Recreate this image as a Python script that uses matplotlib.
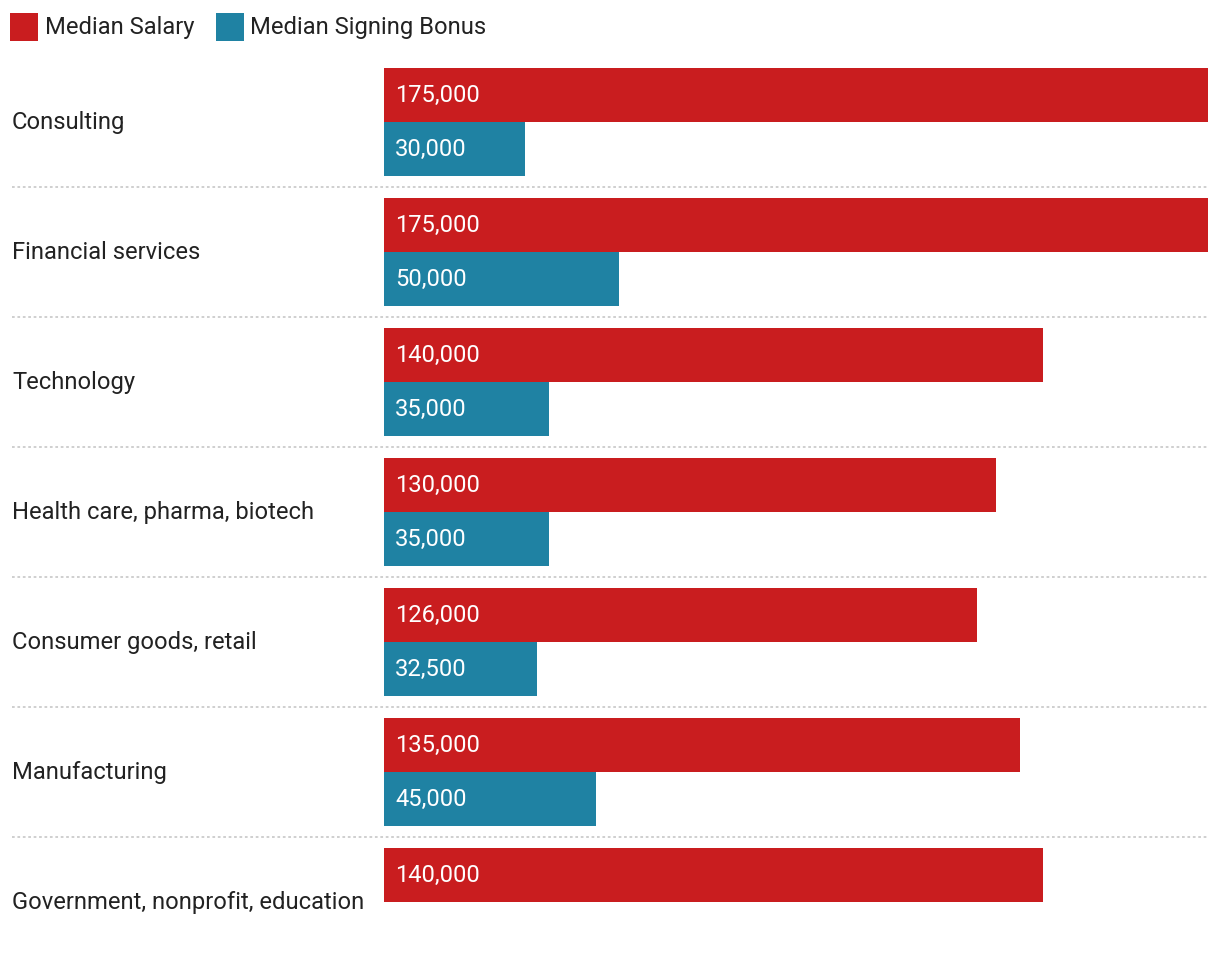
import numpy as np
import matplotlib.pyplot as plt
import matplotlib.patches as mpatches

plt.rcParams['font.family'] = ['Roboto', 'DejaVu Sans']

categories = ["Consulting", "Financial services", "Technology",
              "Health care, pharma, biotech", "Consumer goods, retail",
              "Manufacturing", "Government, nonprofit, education"]
salary = [175000, 175000, 140000, 130000, 126000, 135000, 140000]
bonus = [30000, 50000, 35000, 35000, 32500, 45000, np.nan]

RED = "#C91D1F"
BLUE = "#1F82A3"
TXT = "#222222"

W, H = 1220, 968
fig = plt.figure(figsize=(W / 100, H / 100), dpi=100)

# bar axes: x from 384px to 1208px, y in pixel units
x0, x1 = 384, 1208
ax = fig.add_axes([x0 / W, 0, (x1 - x0) / W, 1])
ax.set_xlim(0, max(salary))
ax.set_ylim(H, 0)
ax.axis("off")

# overlay layer in pixel coords for labels, separators, legend
bg = fig.add_axes([0, 0, 1, 1])
bg.set_xlim(0, W)
bg.set_ylim(H, 0)
bg.axis("off")
bg.patch.set_alpha(0)
bg.set_zorder(2)

row_h = 130
bar_h = 54
first_mid = 122
mids = first_mid + row_h * np.arange(len(categories))

ax.barh(mids - bar_h / 2, salary, height=bar_h, color=RED, linewidth=0)
bonus_arr = np.array(bonus, dtype=float)
ok = ~np.isnan(bonus_arr)
ax.barh(mids[ok] + bar_h / 2, bonus_arr[ok], height=bar_h, color=BLUE, linewidth=0)

FS = 17.1
dy = -1.8  # small nudge so text sits like the original
for m, s, b in zip(mids, salary, bonus):
    bg.text(395, m - bar_h / 2 + dy, f"{s:,}", color="white", fontsize=FS, va="center_baseline", ha="left")
    if not np.isnan(b):
        bg.text(395, m + bar_h / 2 + dy, f"{int(b):,}", color="white", fontsize=FS, va="center_baseline", ha="left")

for i, (cat, m) in enumerate(zip(categories, mids)):
    bg.text(12, m + dy, cat, color=TXT, fontsize=FS, va="center_baseline", ha="left")
    if i < len(categories) - 1:
        y = m + 65
        bg.plot([12, x1], [y, y], color="#CCCCCC", lw=1.3, linestyle=(0, (1.5, 1.5)))

# legend
bg.add_patch(mpatches.Rectangle((10, 13), 28, 28, color=RED, lw=0))
bg.text(45, 27 + dy, "Median Salary", color=TXT, fontsize=FS, va="center_baseline", ha="left")
bg.add_patch(mpatches.Rectangle((216, 13), 28, 28, color=BLUE, lw=0))
bg.text(250, 27 + dy, "Median Signing Bonus", color=TXT, fontsize=FS, va="center_baseline", ha="left")

fig.savefig("out.png", dpi=100, facecolor="white")
